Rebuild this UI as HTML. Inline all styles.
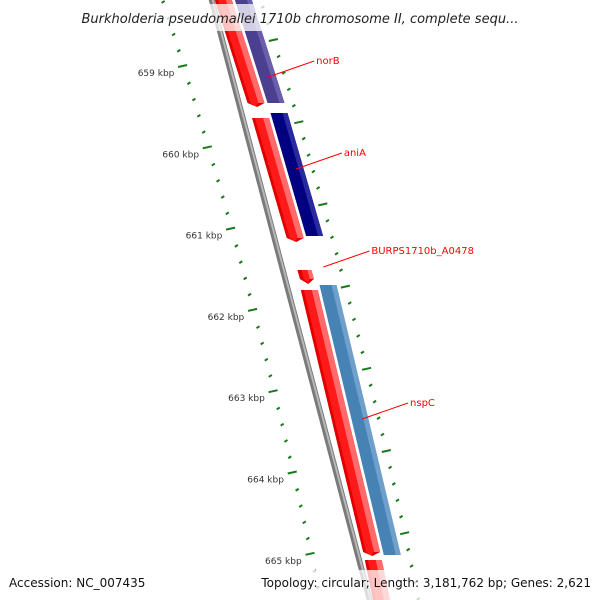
<!DOCTYPE html>
<html><head><meta charset="utf-8"><style>
body{margin:0;background:#fff}
svg{display:block;font-family:"DejaVu Sans","Liberation Sans",sans-serif}
</style></head><body>
<svg id="map" width="600" height="600" viewBox="0 0 600 600">
<g id="ticks"></g>
<g id="backbone"></g>
<g id="features"></g>
<g id="labels"></g>
<rect x="68" y="4" width="464" height="27" fill="#fff" opacity="0.75"/>
<text x="300" y="23" text-anchor="middle" font-size="13" font-style="italic" fill="#222">Burkholderia pseudomallei 1710b chromosome II, complete sequ...</text>
<rect x="0" y="570" width="600" height="30" fill="#fff" opacity="0.75"/>
<text x="9" y="587" font-size="12" fill="#111">Accession: NC_007435</text>
<text x="591" y="587" font-size="12" fill="#111" text-anchor="end">Topology: circular; Length: 3,181,762 bp; Genes: 2,621</text>
</svg>
<script>
const geneNames=["","","norB","","aniA","","BURPS1710b_A0478","","nspC","",""];
const geneStart=[-10,-10,0,113,118,0,270,285,290,560,0];
const geneEnd=[103,103,0,236,238,0,279,555,552,610,0];
const geneTrack=["blue","red","","navy","red","","red","steel","red","red",""];
const labelNames=["norB","aniA","BURPS1710b_A0478","nspC"];
const labelY=[64,156,254,406];
const innerKbp=[659,660,661,662,663,664,665];
const NS="http://www.w3.org/2000/svg";
function gx(y){return 212+0.3262*y-1.048e-4*y*y;}
function kbpY(k){return 67+81.3*(k-659);}
function mk(tag,attrs,parent){const e=document.createElementNS(NS,tag);for(const k in attrs)e.setAttribute(k,attrs[k]);parent.appendChild(e);return e;}
function band(y1,y2,o1,o2,tip){
  let p=[[gx(y1)+o1,y1],[gx(y1)+o2,y1],[gx(y2)+o2,y2]];
  if(tip){const ym=y2+tip;p.push([gx(ym)+(o1+o2)/2,ym]);}
  p.push([gx(y2)+o1,y2]);
  return p.map(q=>q[0].toFixed(1)+","+q[1].toFixed(1)).join(" ");
}
const T=document.getElementById("ticks"),B=document.getElementById("backbone"),F=document.getElementById("features"),L=document.getElementById("labels");
// backbone
let bb=mk("polygon",{points:band(-5,605,-3,3,0),fill:"#7a7a7a"},B);


let bs=mk("polygon",{points:band(-5,605,0,2,0),fill:"#b8b8b8"},B);


// inner ticks
for(let s=-5;s<=35;s++){
  const k=659+s*0.2;const y=kbpY(k);if(y<-5||y>605)continue;
  const major=(s%5===0);const o1=major?-55:-51,o2=major?-46:-48;
  const yc=y+(major?-1:0);
  const t=mk("line",{x1:gx(yc)+o1,y1:yc+1,x2:gx(yc)+o2,y2:yc-1,stroke:"#1a7a1a","stroke-width":2},T);
  
  
}
innerKbp.forEach(k=>{const y=kbpY(k);
  const t=mk("text",{x:gx(y)-59,y:y+9,"font-size":9,fill:"#333","text-anchor":"end"},T);
  t.textContent=k+" kbp";
  
  
});
// outer ticks
for(let s=-3;s<=35;s++){
  const y=40+16.44*s;if(y<-5||y>605)continue;
  const major=(s%5===0);const o1=major?44:47,o2=major?53:50;
  const t=mk("line",{x1:gx(y)+o1,y1:y+1,x2:gx(y)+o2,y2:y-1,stroke:"#1a7a1a","stroke-width":2},T);
  
  
}
// features
geneTrack.forEach((tr,i)=>{
  if(!tr)return;const y1=geneStart[i],y2=geneEnd[i];
  if(tr==="red"){
    const small=(y2-y1)<20;
    const g=mk("g",{},F);
    
    
    mk("polygon",{points:band(y1,y2,small?5:3,small?19:20,small?5:4),fill:"#e00000"},g);
    mk("polygon",{points:band(y1,y2,small?9:6,small?15:14,small?4:3),fill:"#ff1a1a"},g);
    mk("polygon",{points:band(y1,y2,small?15:14,small?19:20,0),fill:"#ff6a6a"},g);
  }else{
    const col=tr==="blue"?"#4b3f8f":tr==="navy"?"#000080":"#4682b4";
    const hi=tr==="blue"?"#6a5fad":tr==="navy"?"#2a2aa0":"#6fa0cc";
    const g=mk("g",{},F);
    
    
    mk("polygon",{points:band(y1,y2,23,40,0),fill:col},g);
    mk("polygon",{points:band(y1,y2,35,40,0),fill:hi},g);
  }
});
// labels
labelNames.forEach((n,i)=>{
  const y=labelY[i];const lx=gx(y+12)+50;
  const ln=mk("line",{x1:lx-18,y1:y+13,x2:lx+28,y2:y-3,stroke:"#ff0000","stroke-width":1},L);
  
  
  const t=mk("text",{x:lx+30,y:y,"font-size":10,fill:"#ff0000"},L);
  t.textContent=n;
  
  
});
</script>
</body></html>
